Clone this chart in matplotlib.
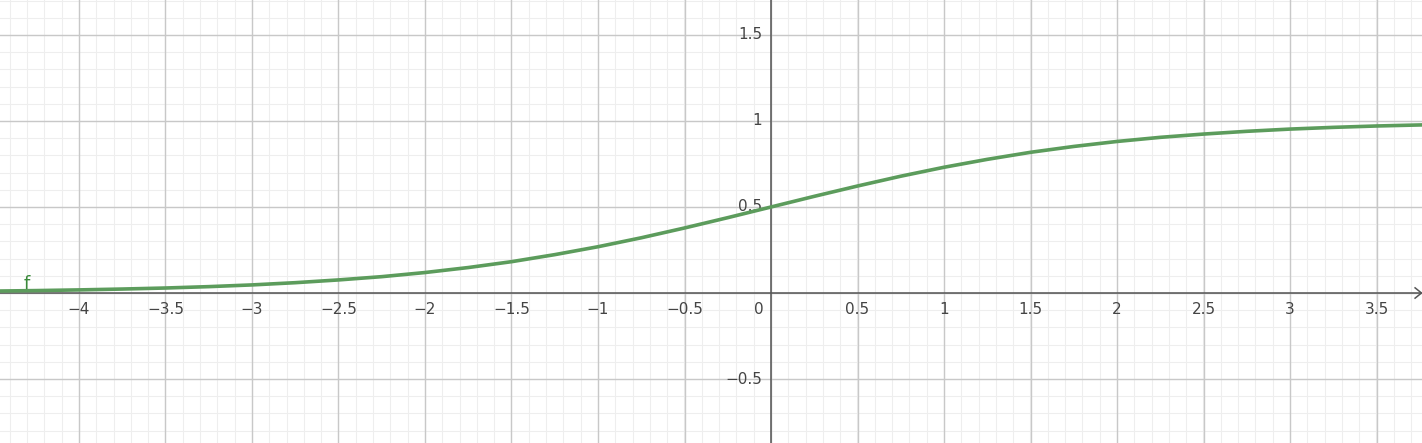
import matplotlib
matplotlib.use("Agg")
import matplotlib.pyplot as plt
import numpy as np

x_vals = [-4.5,-4.25,-4,-3.75,-3.5,-3.25,-3,-2.75,-2.5,-2.25,-2,-1.75,-1.5,-1.25,-1,-0.75,-0.5,-0.25,
          0,0.25,0.5,0.75,1,1.25,1.5,1.75,2,2.25,2.5,2.75,3,3.25,3.5,3.75,4]
y_vals = [0.011,0.014,0.018,0.023,0.029,0.037,0.047,0.060,0.076,0.095,0.119,0.148,0.182,0.223,0.269,0.321,0.378,0.438,
          0.5,0.562,0.622,0.679,0.731,0.777,0.818,0.852,0.881,0.905,0.924,0.940,0.953,0.963,0.971,0.977,0.982]
x_ticks = [-4,-3.5,-3,-2.5,-2,-1.5,-1,-0.5,0.5,1,1.5,2,2.5,3,3.5]
y_ticks = [-0.5,0.5,1,1.5]

fig = plt.figure(figsize=(14.22,4.43), dpi=100)
ax = fig.add_axes([0,0,1,1])
xmin, xmax = -771/173, (1422-771)/173
ymin, ymax = -(443-293)/172, 293/172
ax.set_xlim(xmin, xmax); ax.set_ylim(ymin, ymax)
for s in ax.spines.values(): s.set_visible(False)
ax.set_xticks([]); ax.set_yticks([])

for v in np.arange(-4.5, 4.0, 0.1):
    ax.axvline(v, color='#eeeeee', lw=0.8, zorder=0)
for v in np.arange(-0.9, 1.8, 0.1):
    ax.axhline(v, color='#eeeeee', lw=0.8, zorder=0)
for v in np.arange(-4.5, 4.0, 0.5):
    ax.axvline(v, color='#c8c8c8', lw=1, zorder=1)
for v in np.arange(-1.0, 2.0, 0.5):
    ax.axhline(v, color='#c8c8c8', lw=1, zorder=1)
ax.axhline(0, color='#555555', lw=1.1, zorder=2)
ax.axvline(0, color='#555555', lw=1.1, zorder=2)
ax.plot([xmax-0.04, xmax-0.003, xmax-0.04], [0.03, 0, -0.03], color='#555555', lw=1.1, zorder=2)

def fmt(v):
    return ('%g' % v).replace('-', '\u2212')
for t in x_ticks:
    ax.text(t, -0.05, fmt(t), ha='center', va='top', fontsize=11, color='#444444')
ax.text(-0.04, -0.05, '0', ha='right', va='top', fontsize=11, color='#444444')
for t in y_ticks:
    ax.text(-0.05, t, fmt(t), ha='right', va='center', fontsize=11, color='#444444')

ax.plot(x_vals, y_vals, color='#5c9c5c', lw=2.6, zorder=3, solid_capstyle='round')
ax.text(-4.3, 0.0, 'f', color='#3a8a3a', fontsize=13, ha='center', va='bottom')
fig.savefig('out.png', dpi=100)
